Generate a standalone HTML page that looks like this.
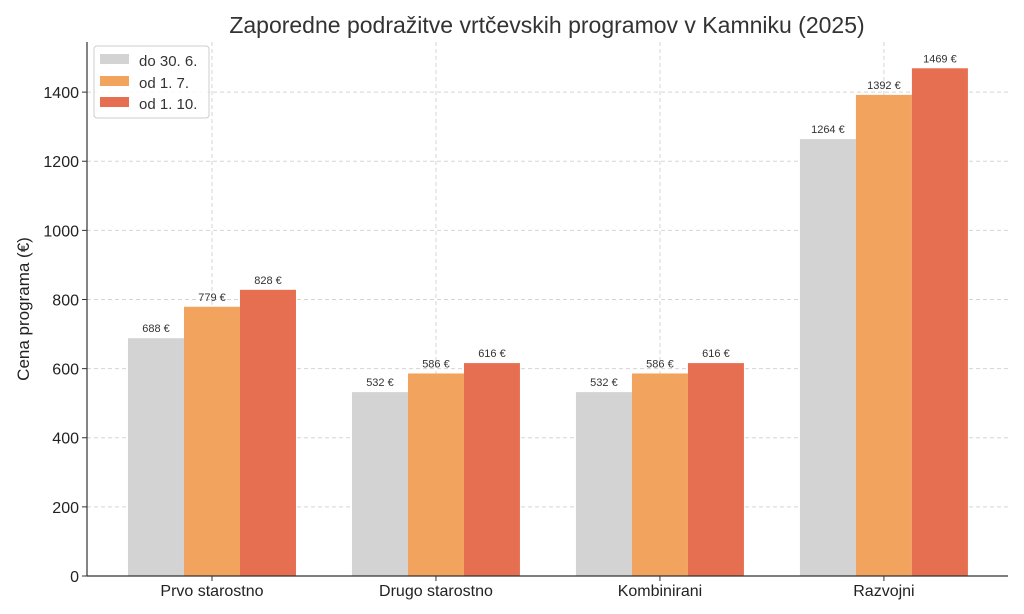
<!DOCTYPE html>
<html><head><meta charset="utf-8"><style>
body{margin:0;background:#fff;}
svg{display:block;font-family:"Liberation Sans","DejaVu Sans",sans-serif;}
</style></head><body>
<svg id="chart" width="1024" height="614" viewBox="0 0 1024 614">
<text x="547" y="33" text-anchor="middle" font-size="23" fill="#333">Zaporedne podražitve vrtčevskih programov v Kamniku (2025)</text>
<text transform="translate(29,309) rotate(-90)" text-anchor="middle" font-size="17" fill="#222">Cena programa (€)</text>
<g id="grid"></g><g id="bars"></g><g id="axes"></g>
<g>
<rect x="94" y="46" width="115" height="72" rx="3" fill="#fff" fill-opacity="0.85" stroke="#ccc"/>
<rect x="100" y="54" width="29" height="10" fill="#d3d3d3"/><text x="139" y="66" font-size="15" fill="#333">do 30. 6.</text>
<rect x="100" y="76" width="29" height="10" fill="#f2a35e"/><text x="139" y="88" font-size="15" fill="#333">od 1. 7.</text>
<rect x="100" y="97" width="29" height="10" fill="#e76f51"/><text x="139" y="109" font-size="15" fill="#333">od 1. 10.</text>
</g>
</svg>
<script>
const categories=["Prvo starostno","Drugo starostno","Kombinirani","Razvojni"];
const seriesNames=["do 30. 6.","od 1. 7.","od 1. 10."];
const s1=[688,532,532,1264];
const s2=[779,586,586,1392];
const s3=[828,616,616,1469];
const yTicks=[0,200,400,600,800,1000,1200,1400];
const colors=["#d3d3d3","#f2a35e","#e76f51"];
const NS="http://www.w3.org/2000/svg";
const L=87,R=1008,T=42,B=576,yMax=1545,xMin=-0.558,xMax=3.554;
const y=v=>B-(v/yMax)*(B-T);
const x=i=>L+(i-xMin)/(xMax-xMin)*(R-L);
const unit=x(1)-x(0);
function mk(tag,attrs,parent){const e=document.createElementNS(NS,tag);for(const k in attrs)e.setAttribute(k,attrs[k]);parent.appendChild(e);return e;}
const grid=document.getElementById('grid'),bars=document.getElementById('bars'),axes=document.getElementById('axes');
yTicks.forEach(t=>{
 if(t>0){const g=mk('line',{x1:L,x2:R,y1:y(t),y2:y(t),stroke:'#d5d5d5','stroke-dasharray':'4,3'},grid);
 
 }
 mk('line',{x1:L-5,x2:L,y1:y(t),y2:y(t),stroke:'#333'},axes);
 const tx=mk('text',{x:L-8,y:y(t)+6,'text-anchor':'end','font-size':'16',fill:'#222'},axes);tx.textContent=t;
 
 
});
const series=[s1,s2,s3];
categories.forEach((c,i)=>{
 const g=mk('line',{x1:x(i),x2:x(i),y1:T,y2:B,stroke:'#d5d5d5','stroke-dasharray':'4,3'},grid);
 
 
 mk('line',{x1:x(i),x2:x(i),y1:B,y2:B+5,stroke:'#333'},axes);
 const tx=mk('text',{x:x(i),y:B+20,'text-anchor':'middle','font-size':'16',fill:'#222'},axes);tx.textContent=c;
 
 
 series.forEach((s,j)=>{
  const w=0.25*unit,cx=x(i+(j-1)*0.25);
  const r=mk('rect',{x:cx-w/2,y:y(s[i]),width:w,height:B-y(s[i]),fill:colors[j]},bars);
  
  
  const lb=mk('text',{x:cx,y:y(s[i])-6,'text-anchor':'middle','font-size':'11',fill:'#333'},bars);lb.textContent=s[i]+' €';
  
  
 });
});
mk('line',{x1:L,x2:L,y1:T,y2:B,stroke:'#333','stroke-width':1.2},axes);
mk('line',{x1:L,x2:R,y1:B,y2:B,stroke:'#333','stroke-width':1.2},axes);
</script>
</body></html>
